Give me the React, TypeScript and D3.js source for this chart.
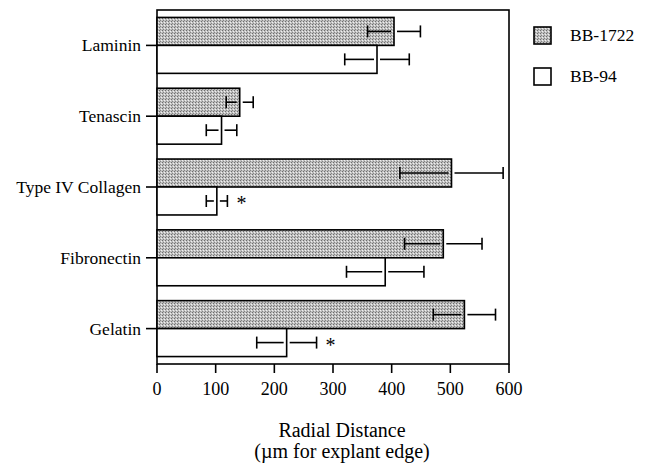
import React from "react";
import * as d3 from "d3";

const categories = ["Laminin", "Tenascin", "Type IV Collagen", "Fibronectin", "Gelatin"];
const series = ["BB-1722", "BB-94"];
const bb1722 = [404, 141, 502, 488, 524];
const bb1722Err = [45, 23, 88, 66, 53];
const bb94 = [375, 110, 102, 389, 221];
const bb94Err = [55, 26, 18, 66, 51];
const significant = [false, false, true, false, true];
const xTicks = [0, 100, 200, 300, 400, 500, 600];

const W = 648, H = 463;
const left = 157, right = 509, top = 10, bottom = 364;
const fontStyle = { fontFamily: "Liberation Serif, DejaVu Serif, serif" };

export default function App() {
  const x = d3.scaleLinear().domain([0, 600]).range([left, right]);
  const y = d3.scaleBand().domain(categories).range([top, bottom]).paddingInner(0.21).paddingOuter(0.105);
  const sub = d3.scaleBand().domain(series).range([0, y.bandwidth()]);
  const values = [bb1722, bb94];
  const errs = [bb1722Err, bb94Err];
  const gap = 3;
  const cap = 6;
  return (
    <svg width={W} height={H} style={{ display: "block", position: "absolute", left: 0, top: 0, ...fontStyle }}>
      <defs>
        <pattern id="stip" width="3" height="3" patternUnits="userSpaceOnUse">
          <rect width="3" height="3" fill="#c0c0c0" />
          <rect x="0" y="0" width="1" height="1" fill="#6e6e6e" />
          <rect x="2" y="1" width="1" height="1" fill="#f0f0f0" />
          <rect x="1" y="2" width="1" height="1" fill="#858585" />
        </pattern>
      </defs>
      <rect x={left} y={top} width={right - left} height={bottom - top} fill="none" stroke="#000" strokeWidth={1.6} />
      {categories.map((c, i) =>
        series.map((s, k) => {
          const y0 = (y(c) as number) + (sub(s) as number);
          const h = sub.bandwidth();
          const v = values[k][i];
          const e = errs[k][i];
          const xe = x(v);
          const ym = y0 + h / 2;
          return (
            <g key={c + s}>
              <rect x={x(0)} y={y0} width={xe - x(0)} height={h} fill={k === 0 ? "url(#stip)" : "#fff"} stroke="#000" strokeWidth={1.6} />
              <line x1={x(v - e)} x2={xe - gap} y1={ym} y2={ym} stroke="#000" strokeWidth={1.6} />
              <line x1={xe + gap} x2={x(v + e)} y1={ym} y2={ym} stroke="#000" strokeWidth={1.6} />
              <line x1={x(v - e)} x2={x(v - e)} y1={ym - cap} y2={ym + cap} stroke="#000" strokeWidth={1.6} />
              <line x1={x(v + e)} x2={x(v + e)} y1={ym - cap} y2={ym + cap} stroke="#000" strokeWidth={1.6} />
              {k === 1 && significant[i] && (
                <text x={x(v + e) + 14} y={ym + 9} fontSize={20} textAnchor="middle">*</text>
              )}
            </g>
          );
        })
      )}
      {categories.map((c) => {
        const yc = (y(c) as number) + y.bandwidth() / 2;
        return (
          <g key={c}>
            <line x1={left - 11} x2={left} y1={yc} y2={yc} stroke="#000" strokeWidth={1.6} />
            <text x={left - 16} y={yc + 6} fontSize={17.5} textAnchor="end">{c}</text>
          </g>
        );
      })}
      {xTicks.map((t) => (
        <g key={t}>
          <line x1={x(t)} x2={x(t)} y1={bottom} y2={bottom + 9} stroke="#000" strokeWidth={1.6} />
          <text x={x(t)} y={bottom + 31} fontSize={18} textAnchor="middle">{t}</text>
        </g>
      ))}
      <text x={342} y={437} fontSize={20} textAnchor="middle">Radial Distance</text>
      <text x={342} y={458} fontSize={20} textAnchor="middle">(µm for explant edge)</text>
      {series.map((s, k) => (
        <g key={s}>
          <rect x={534} y={27 + k * 41} width={17} height={17} fill={k === 0 ? "url(#stip)" : "#fff"} stroke="#000" strokeWidth={1.6} />
          <text x={570} y={41 + k * 41} fontSize={17.5}>{s}</text>
        </g>
      ))}
    </svg>
  );
}
